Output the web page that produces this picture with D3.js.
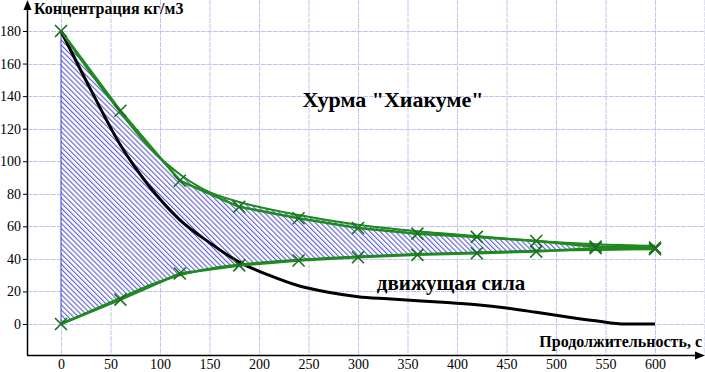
<!DOCTYPE html>
<html>
<head>
<meta charset="utf-8">
<script src="https://cdn.jsdelivr.net/npm/d3@7"></script>
<style>
  body { margin: 0; background: #fff; }
  svg text { font-family: "Liberation Serif", "Times New Roman", "DejaVu Serif", serif; }
</style>
</head>
<body>
<div id="chart"></div>
<script>
// measured points, every 60 s
var timeS = [0, 60, 120, 180, 240, 300, 360, 420, 480, 540, 600];
var upperData = [180, 131, 88, 72, 65, 59, 55.5, 53.5, 51, 47.5, 47];
var lowerData = [0, 15, 31, 36, 39, 41, 42.5, 43.5, 44.5, 46.5, 46];

// smoothed curves bounding the hatched zone
var fitTime = [0, 30, 60, 90, 120, 150, 180, 240, 300, 360, 420, 480, 540, 600];
var upperFit = [180, 154, 130, 108, 92, 81, 75, 67, 61, 57, 54, 51, 49, 48];
var lowerFit = [0, 8, 16, 24, 30, 34, 36.5, 39.5, 41.5, 43, 44, 45, 45.5, 46];

// driving force (black curve)
var dfTime = [0, 30, 60, 90, 120, 150, 180, 210, 240, 270, 300, 330, 360, 390, 420, 450, 480, 510, 540, 570, 600];
var dfValue = [180, 144, 110, 84, 64, 50, 38, 30, 23.5, 19.5, 16.8, 15.5, 14.3, 13.2, 11.8, 9.8, 7.2, 4.5, 2, 0, 0];

var xTicks = [0, 50, 100, 150, 200, 250, 300, 350, 400, 450, 500, 550, 600];
var yTicks = [0, 20, 40, 60, 80, 100, 120, 140, 160, 180];

var serif = '"Liberation Serif", "Times New Roman", "DejaVu Serif", serif';
var width = 705, height = 372;
var svg = d3.select('#chart').append('svg')
  .attr('width', width)
  .attr('height', height);

var x = d3.scaleLinear().domain([0, 600]).range([61, 655]);
var y = d3.scaleLinear().domain([0, 180]).range([324, 31]);
var axisX = 27, axisY = 355;

var defs = svg.append('defs');
var hatch = defs.append('pattern')
  .attr('id', 'hatch')
  .attr('patternUnits', 'userSpaceOnUse')
  .attr('width', 3.6)
  .attr('height', 10)
  .attr('patternTransform', 'rotate(-45)');
hatch.append('rect').attr('width', 3.6).attr('height', 10).attr('fill', '#fff');
hatch.append('line')
  .attr('x1', 0.6).attr('y1', 0).attr('x2', 0.6).attr('y2', 10)
  .attr('stroke', '#4a4ad2').attr('stroke-width', 1);

// grid
var grid = svg.append('g').attr('stroke', '#c4c4ee').attr('stroke-width', 1)
  .attr('stroke-dasharray', '5,1');
xTicks.concat([650]).forEach(function(t) {
  grid.append('line')
    .attr('x1', x(t) + 0.5).attr('x2', x(t) + 0.5)
    .attr('y1', 0).attr('y2', axisY);
});
yTicks.forEach(function(v) {
  grid.append('line')
    .attr('x1', axisX).attr('x2', width)
    .attr('y1', Math.round(y(v)) + 0.5).attr('y2', Math.round(y(v)) + 0.5);
});

// hatched zone
var zone = fitTime.map(function(t, i) { return { t: t, hi: upperFit[i], lo: lowerFit[i] }; });
var area = d3.area()
  .x(function(d) { return x(d.t); })
  .y0(function(d) { return y(d.lo); })
  .y1(function(d) { return y(d.hi); })
  .curve(d3.curveMonotoneX);
svg.append('path')
  .datum(zone)
  .attr('d', area)
  .attr('fill', 'url(#hatch)')
  .attr('stroke', '#3c3cc8')
  .attr('stroke-width', 1);

// driving force
var dfLine = d3.line()
  .x(function(d) { return x(d[0]); })
  .y(function(d) { return y(d[1]); })
  .curve(d3.curveMonotoneX);
svg.append('path')
  .datum(d3.zip(dfTime, dfValue))
  .attr('d', dfLine)
  .attr('fill', 'none')
  .attr('stroke', '#000')
  .attr('stroke-width', 3);

// green curves
var green = '#1f8a1f';
[upperFit, lowerFit].forEach(function(vals) {
  svg.append('path')
    .datum(d3.zip(fitTime, vals))
    .attr('d', dfLine)
    .attr('fill', 'none')
    .attr('stroke', green)
    .attr('stroke-width', 2);
});
var dataLine = d3.line()
  .x(function(d) { return x(d[0]); })
  .y(function(d) { return y(d[1]); });
[upperData, lowerData].forEach(function(vals) {
  svg.append('path')
    .datum(d3.zip(timeS, vals))
    .attr('d', dataLine)
    .attr('fill', 'none')
    .attr('stroke', green)
    .attr('stroke-width', 2.5);
  svg.append('g').selectAll('path')
    .data(d3.zip(timeS, vals)).enter()
    .append('path')
    .attr('transform', function(d) { return 'translate(' + x(d[0]) + ',' + y(d[1]) + ')'; })
    .attr('d', 'M-6,-6L6,6M-6,6L6,-6')
    .attr('stroke', '#1b6e1b')
    .attr('stroke-width', 1.6);
});

// axes
var ax = svg.append('g').attr('stroke', '#000').attr('fill', '#000');
ax.append('line').attr('x1', axisX).attr('x2', 697).attr('y1', axisY + 0.5).attr('y2', axisY + 0.5).attr('stroke-width', 1.5);
ax.append('path').attr('d', 'M705,' + (axisY + 0.5) + 'L695,' + (axisY - 3.5) + 'L695,' + (axisY + 4.5) + 'Z').attr('stroke', 'none');
ax.append('line').attr('x1', axisX + 0.5).attr('x2', axisX + 0.5).attr('y1', axisY).attr('y2', 8).attr('stroke-width', 1.5);
ax.append('path').attr('d', 'M' + (axisX + 0.5) + ',0L' + (axisX - 3.5) + ',10L' + (axisX + 4.5) + ',10Z').attr('stroke', 'none');

svg.append('g')
  .attr('transform', 'translate(' + axisX + ',0)')
  .call(d3.axisLeft(y).tickValues(yTicks).tickSize(4).tickPadding(2))
  .call(function(g) {
    g.attr('font-family', serif).attr('font-size', 14);
    g.select('.domain').remove();
    g.selectAll('text').attr('font-family', serif).attr('fill', '#000');
    g.selectAll('line').attr('stroke', '#000');
  });

svg.append('g')
  .attr('transform', 'translate(0,' + axisY + ')')
  .call(d3.axisBottom(x).tickValues(xTicks).tickSize(0).tickPadding(4))
  .call(function(g) {
    g.attr('font-family', serif).attr('font-size', 14);
    g.select('.domain').remove();
    g.selectAll('text').attr('font-family', serif).attr('fill', '#000');
  });

// labels
function label(tx, ty, size, anchor, txt) {
  svg.append('text').attr('x', tx).attr('y', ty)
    .attr('font-family', serif)
    .attr('font-size', size).attr('font-weight', 'bold')
    .attr('text-anchor', anchor).text(txt);
}
label(34, 14, 16, 'start', 'Концентрация кг/м3');
label(702, 347, 16, 'end', 'Продолжительность, с');
label(393, 107, 22, 'middle', 'Хурма "Хиакуме"');
label(451, 290, 21, 'middle', 'движущая сила');
</script>
</body>
</html>
